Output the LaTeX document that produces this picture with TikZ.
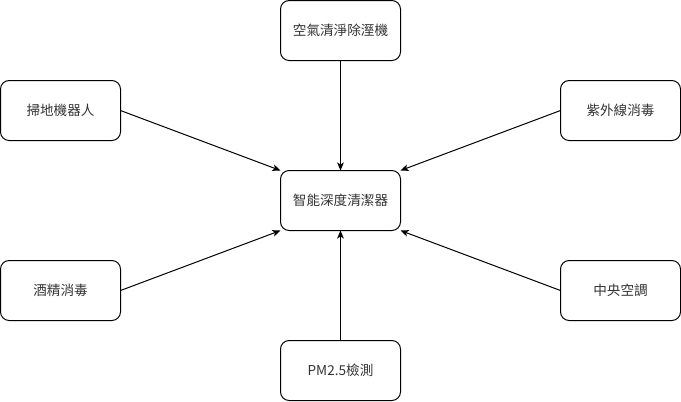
\documentclass[tikz,border=0pt]{standalone}
\usepackage{fontspec}
\setmainfont{Noto Sans CJK TC}
\usepackage{tikz}
\usetikzlibrary{arrows.meta}

\begin{document}
\begin{tikzpicture}[x=0.75pt, y=-0.75pt]

\tikzstyle{every node} = [rectangle, draw, rounded corners=6.5pt, line width=0.75pt, minimum width=90pt, minimum height=45pt, inner sep=0pt, outer sep=0pt, font=\fontsize{10.2}{12}\selectfont, text=black!80]

\useasboundingbox (0,0) rectangle (681,401);

\node (a) at (340.5,30.5) {空氣清淨除溼機};
\node (r) at (60.5,110.5) {掃地機器人};
\node (u) at (620.5,110.5) {紫外線消毒};

\node (c) at (340.5,200.5) {智能深度清潔器};

\node (l) at (60.5,290.5) {酒精消毒};
\node (h) at (620.5,290.5) {中央空調};
\node (p) at (340.5,370.5) {PM2.5檢測};


\draw[-{Stealth[length=6pt,width=5pt,inset=1.5pt]}, line width=0.75pt] (a) -- (c);
\draw[-{Stealth[length=6pt,width=5pt,inset=1.5pt]}, line width=0.75pt] (r.east) -- (c.north west);
\draw[-{Stealth[length=6pt,width=5pt,inset=1.5pt]}, line width=0.75pt] (u.west) -- (c.north east);
\draw[-{Stealth[length=6pt,width=5pt,inset=1.5pt]}, line width=0.75pt] (l.east) -- (c.south west);
\draw[-{Stealth[length=6pt,width=5pt,inset=1.5pt]}, line width=0.75pt] (h.west) -- (c.south east);
\draw[-{Stealth[length=6pt,width=5pt,inset=1.5pt]}, line width=0.75pt] (p) -- (c);

\end{tikzpicture}
\end{document}
